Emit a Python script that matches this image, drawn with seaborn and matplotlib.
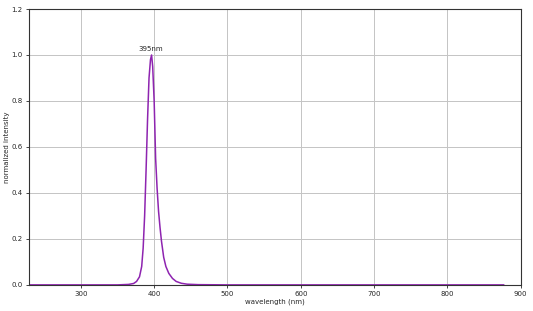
import matplotlib
matplotlib.use("Agg")
import matplotlib.pyplot as plt
import seaborn as sns
import pandas as pd

wavelength = [230, 300, 350, 365, 372, 376, 380, 383, 385, 387, 389, 391, 393, 395,
              396.5, 398, 400, 402, 404, 406, 408, 410, 413, 416, 420, 425, 430, 437,
              445, 460, 500, 600, 700, 800, 877]
intensity = [0.0, 0.0, 0.0, 0.002, 0.006, 0.015, 0.035, 0.08, 0.16, 0.3, 0.5, 0.72, 0.9, 0.98,
             1.0, 0.95, 0.8, 0.55, 0.42, 0.32, 0.25, 0.19, 0.12, 0.08, 0.05, 0.028, 0.015, 0.007,
             0.003, 0.001, 0.0, 0.0, 0.0, 0.0, 0.0]
peak_label = "395nm"
x_ticks = [300, 400, 500, 600, 700, 800, 900]
y_ticks = [0.0, 0.2, 0.4, 0.6, 0.8, 1.0, 1.2]

df = pd.DataFrame({"wavelength": wavelength, "intensity": intensity})

sns.set_style("ticks")
plt.rcParams['font.family'] = ['DejaVu Sans']

fig = plt.figure(figsize=(5.33, 3.11), dpi=100)
ax = fig.add_axes([0.054, 0.084, 0.923, 0.887])
sns.lineplot(data=df, x="wavelength", y="intensity", ax=ax, color="#8e24b0", linewidth=1.1)
ax.set_xlim(229, 900)
ax.set_ylim(0, 1.2)
ax.set_xticks(x_ticks)
ax.set_yticks(y_ticks)
ax.set_yticklabels([f"{v:.1f}" for v in y_ticks])
ax.grid(True, color="#c4c4c4", linewidth=0.7)
ax.tick_params(labelsize=5, length=2.5, pad=2, color="#444444", width=0.7)
for s in ax.spines.values():
    s.set_color("#333333")
    s.set_linewidth(0.8)
ax.set_xlabel("wavelength (nm)", fontsize=5, labelpad=1)
ax.set_ylabel("normalized intensity", fontsize=5, labelpad=1)
ax.text(396, 1.015, peak_label, ha="center", va="bottom", fontsize=5)
fig.savefig("out.png", dpi=100)
